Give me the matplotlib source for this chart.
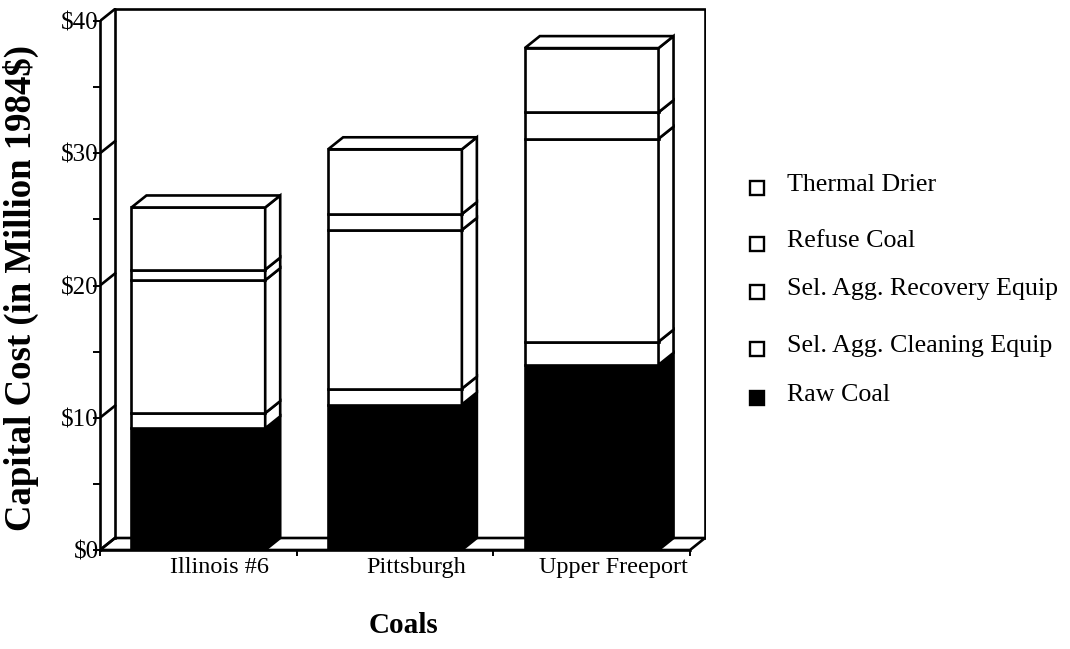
import numpy as np
import matplotlib.pyplot as plt
from matplotlib.lines import Line2D

plt.rcParams['font.family'] = ['Liberation Serif', 'DejaVu Serif']

# Koszt inwestycyjny (mln $ z 1984) dla trzech węgli
coals = ['Illinois #6', 'Pittsburgh', 'Upper Freeport']
raw_coal = [9.2, 11.0, 14.0]
cleaning_equip = [1.15, 1.2, 1.75]
recovery_equip = [10.05, 12.0, 15.35]
refuse_coal = [0.8, 1.2, 2.0]
thermal_drier = [4.7, 4.9, 4.85]

series = [raw_coal, cleaning_equip, recovery_equip, refuse_coal, thermal_drier]
series_names = ['Raw Coal', 'Sel. Agg. Cleaning Equip', 'Sel. Agg. Recovery Equip',
                'Refuse Coal', 'Thermal Drier']
series_colors = ['black', 'white', 'white', 'white', 'white']

y_ticks = [0, 10, 20, 30, 40]
y_tick_labels = ['$0', '$10', '$20', '$30', '$40']

W, H = 1070, 649
fig = plt.figure(figsize=(W / 100, H / 100), dpi=100)

# osie w pikselach: przednia oś od x=100 do 690, y=550 (0) do 21 (40)
left_px, right_px, bottom_px, top_px = 100, 706, 550, 8
ax = fig.add_axes([left_px / W, 1 - bottom_px / H,
                   (right_px - left_px) / W, (bottom_px - top_px) / H])
px_x = 590 / 3          # pikseli na jedną kategorię
px_y = (550 - 21) / 40  # pikseli na 1 mln $
ax.set_xlim(-0.5, -0.5 + (right_px - left_px) / px_x)
ax.set_ylim(0, (bottom_px - top_px) / px_y)

# przesunięcie głębi (efekt 3D)
dx = 15 / px_x
dy = 12 / px_y
lw = 1.9

x0, x1 = -0.5, len(coals) - 0.5
ymax = 40

# podłoga i tylna ściana
ax.plot([x0, x1, x1 + dx, x0 + dx, x0], [0, 0, dy, dy, 0], color='black', lw=lw, zorder=1)
ax.plot([x0 + dx, x0 + dx, x1 + dx, x1 + dx], [dy, ymax + dy, ymax + dy, dy],
        color='black', lw=lw, zorder=1)
for t in y_ticks:
    ax.plot([x0, x0 + dx], [t, t + dy], color='black', lw=lw, zorder=1)

# słupki skumulowane z bokiem i górą
width = 0.68
for i in range(len(coals)):
    xl, xr = i - width / 2, i + width / 2
    bottom = 0
    for s, color in zip(series, series_colors):
        top = bottom + s[i]
        ax.fill([xl, xr, xr, xl], [bottom, bottom, top, top], facecolor=color,
                edgecolor='black', lw=lw, zorder=3)
        ax.fill([xr, xr + dx, xr + dx, xr], [bottom, bottom + dy, top + dy, top],
                facecolor=color, edgecolor='black', lw=lw, zorder=3)
        bottom = top
    ax.fill([xl, xl + dx, xr + dx, xr], [bottom, bottom + dy, bottom + dy, bottom],
            facecolor='white', edgecolor='black', lw=lw, zorder=3)

for side in ['top', 'right']:
    ax.spines[side].set_visible(False)
ax.spines['left'].set_bounds(0, ymax)
ax.spines['bottom'].set_bounds(x0, x1)
ax.spines['left'].set_linewidth(lw)
ax.spines['bottom'].set_linewidth(lw)
ax.spines['left'].set_zorder(4)
ax.spines['bottom'].set_zorder(4)

ax.set_yticks(y_ticks)
ax.set_yticklabels(y_tick_labels, fontsize=18)
ax.set_yticks(np.arange(5, 40, 10), minor=True)
ax.tick_params(axis='y', which='both', direction='out', length=5, width=1.4, pad=-4)

ax.set_xticks(np.arange(x0, x1 + 0.01, 1))
ax.set_xticklabels([])
ax.set_xticks(np.arange(len(coals)) + 0.11, minor=True)
ax.set_xticklabels(coals, minor=True, fontsize=17.5)
ax.tick_params(axis='x', which='major', direction='out', length=4, width=1.4)
ax.tick_params(axis='x', which='minor', length=0, pad=5)

ax.set_ylabel('Capital Cost (in Million 1984$)', fontsize=26.5, fontweight='bold')
ax.yaxis.set_label_coords((39 - left_px) / (right_px - left_px), (bottom_px - 288) / (bottom_px - top_px))
ax.set_xlabel('Coals', fontsize=21, fontweight='bold')
ax.xaxis.set_label_coords((403 - left_px) / (right_px - left_px), -(612 - bottom_px) / (bottom_px - top_px))

# legenda rysowana ręcznie
legend_text_y = [185, 241, 289, 346, 395]
legend_names = series_names[::-1]
legend_colors = series_colors[::-1]
for name, color, y in zip(legend_names, legend_colors, legend_text_y):
    fig.add_artist(Line2D([757 / W], [1 - (y + 3) / H], transform=fig.transFigure,
                          marker='s', markersize=10, markerfacecolor=color,
                          markeredgecolor='black', markeredgewidth=1.7, linestyle='none'))
    fig.text(787 / W, 1 - y / H, name, fontsize=18.7, va='center', ha='left')

plt.savefig('out.png', dpi=100)
